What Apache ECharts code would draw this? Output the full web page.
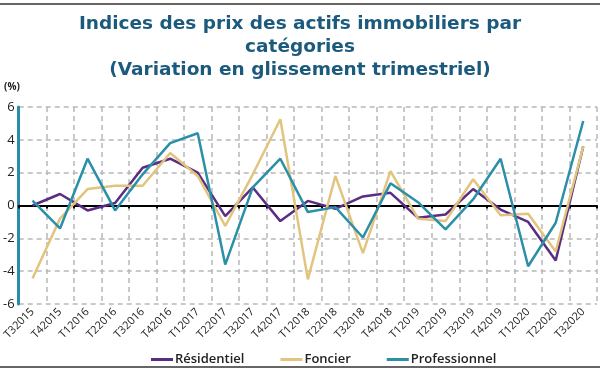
<!DOCTYPE html>
<html><head><meta charset="utf-8">
<script src="https://cdn.jsdelivr.net/npm/echarts@6/dist/echarts.min.js"></script>
<style>html,body{margin:0;padding:0;background:#fff}#c{width:600px;height:372px}</style>
</head><body><div id="c"></div>
<script>
const categories = ["T32015","T42015","T12016","T22016","T32016","T42016","T12017","T22017","T32017","T42017","T12018","T22018","T32018","T42018","T12019","T22019","T32019","T42019","T12020","T22020","T32020"];
const residentiel = [0.0, 0.7, -0.3, 0.15, 2.3, 2.85, 2.0, -0.65, 1.1, -0.95, 0.28, -0.2, 0.55, 0.77, -0.75, -0.55, 1.0, -0.25, -1.0, -3.35, 3.6];
const foncier = [-4.45, -0.8, 1.0, 1.2, 1.2, 3.2, 1.8, -1.25, 1.9, 5.25, -4.5, 1.8, -2.9, 2.1, -0.8, -0.95, 1.6, -0.6, -0.5, -2.8, 3.6];
const professionnel = [0.3, -1.4, 2.85, -0.3, 1.9, 3.8, 4.4, -3.6, 1.1, 2.85, -0.4, -0.1, -1.95, 1.35, 0.2, -1.45, 0.37, 2.85, -3.7, -1.05, 5.15];
const yTicks = [-6, -4, -2, 0, 2, 4, 6];

const FONT = '"Open Sans", "Noto Sans", sans-serif';
const TFONT = '"DejaVu Sans", sans-serif';
const chart = echarts.init(document.getElementById('c'), null, {renderer: 'canvas'});
const grid = {left: 17, right: 3, top: 107, bottom: 68};
chart.setOption({
  animation: false,
  textStyle: {fontFamily: FONT},
  title: {
    text: 'Indices des prix des actifs immobiliers par\ncatégories\n(Variation en glissement trimestriel)',
    left: 'center', top: 8,
    textStyle: {fontFamily: TFONT, fontWeight: 'bold', fontSize: 18.5, lineHeight: 23, color: '#1b5a7c'}
  },
  graphic: [
    {type: 'line', shape: {x1: 0, y1: 4, x2: 600, y2: 4}, style: {stroke: '#666', lineWidth: 2}},
    {type: 'line', shape: {x1: 0, y1: 367, x2: 600, y2: 367}, style: {stroke: '#666', lineWidth: 2}},
    {type: 'text', left: 4, top: 82, style: {text: '(%)', font: 'bold 10px ' + FONT, fill: '#222'}}
  ],
  legend: {
    left: 146, top: 348, itemGap: 36, icon: 'rect', itemWidth: 22, itemHeight: 3,
    textStyle: {fontFamily: FONT, fontSize: 13, fontWeight: 600, color: '#222', padding: [0, 0, 0, -3]},
    data: ['Résidentiel', 'Foncier', 'Professionnel']
  },
  grid: grid,
  xAxis: [
    {
      type: 'category', data: categories, boundaryGap: true, position: 'bottom',
      axisLine: {show: false, onZero: false},
      axisTick: {show: false},
      axisLabel: {rotate: 45, fontSize: 11, color: '#222', margin: 6, interval: 0, fontFamily: FONT},
      splitLine: {show: true, interval: 0, lineStyle: {type: [5, 4], color: '#b8b8b8', width: 1.5}}
    },
    {
      type: 'category', data: categories, boundaryGap: true, position: 'bottom',
      axisLine: {show: true, onZero: true, lineStyle: {color: '#000', width: 2}},
      axisTick: {show: true, inside: false, length: 3, interval: 0, alignWithLabel: false, lineStyle: {color: '#000', width: 2}},
      axisLabel: {show: false},
      splitLine: {show: false}
    }
  ],
  yAxis: {
    type: 'value', min: -6, max: 6, interval: 2,
    axisLine: {show: true, lineStyle: {color: '#2a8ca8', width: 3}},
    axisTick: {show: false},
    axisLabel: {fontSize: 13, color: '#222', margin: 4, fontFamily: FONT, fontWeight: 500,
      formatter: v => yTicks.includes(v) ? String(v) : ''},
    splitLine: {show: true, lineStyle: {type: [5, 4], color: '#b8b8b8', width: 1.5}}
  },
  series: [
    {name: 'Résidentiel', type: 'line', data: residentiel, symbol: 'none', z: 3,
      lineStyle: {color: '#5b2d82', width: 2.5}, itemStyle: {color: '#5b2d82'}},
    {name: 'Foncier', type: 'line', data: foncier, symbol: 'none', z: 4,
      lineStyle: {color: '#e2c47e', width: 2.5}, itemStyle: {color: '#e2c47e'}},
    {name: 'Professionnel', type: 'line', data: professionnel, symbol: 'none', z: 5,
      lineStyle: {color: '#2b8fa7', width: 2.5}, itemStyle: {color: '#2b8fa7'}}
  ]
});
</script>
</body></html>
